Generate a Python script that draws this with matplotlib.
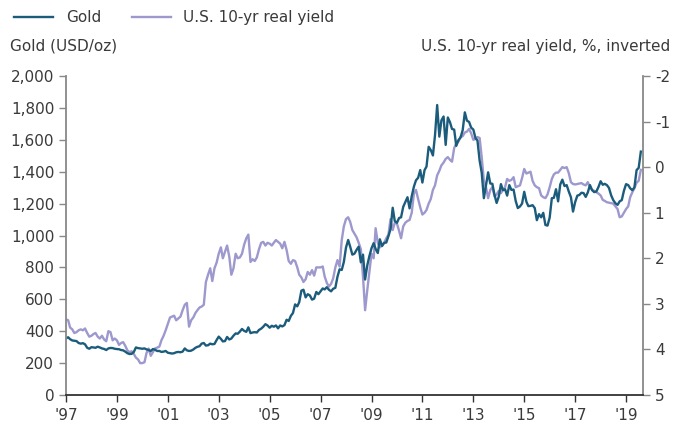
import numpy as np
import pandas as pd
import matplotlib
matplotlib.use("Agg")
import matplotlib.pyplot as plt

plt.rcParams['font.family'] = ['DejaVu Sans']
plt.rcParams['axes.unicode_minus'] = False

# monthly, Jan 1997 - Aug 2019
gold = [
    355, 362, 350, 342, 340, 338, 326, 322, 325, 318, 296, 290,      # 1997
    300, 298, 296, 303, 298, 292, 289, 282, 292, 295, 294, 290,      # 1998
    288, 287, 282, 280, 272, 262, 257, 258, 270, 298, 294, 292,      # 1999
    290, 292, 286, 282, 276, 288, 284, 276, 276, 270, 272, 276,      # 2000
    265, 262, 260, 262, 268, 270, 268, 272, 292, 280, 276, 278,      # 2001
    285, 296, 302, 306, 322, 326, 310, 312, 322, 318, 320, 344,      # 2002
    366, 352, 336, 338, 364, 348, 354, 372, 386, 384, 398, 414,      # 2003
    402, 396, 424, 388, 392, 394, 392, 408, 416, 428, 444, 436,      # 2004
    422, 434, 428, 436, 418, 436, 430, 438, 472, 464, 496, 514,      # 2005
    568, 556, 582, 654, 660, 612, 632, 624, 598, 604, 646, 632,      # 2006
    650, 668, 662, 676, 660, 650, 666, 672, 742, 788, 784, 834,      # 2007
    924, 972, 930, 880, 886, 910, 930, 832, 880, 724, 812, 870,      # 2008
    920, 952, 916, 890, 976, 934, 954, 956, 996, 1040, 1174, 1090,   # 2009
    1080, 1110, 1114, 1180, 1210, 1240, 1170, 1246, 1306, 1346, 1362, 1410,  # 2010
    1332, 1410, 1432, 1556, 1536, 1502, 1628, 1818, 1620, 1722, 1746, 1568,  # 2011
    1740, 1710, 1668, 1664, 1562, 1598, 1614, 1660, 1772, 1720, 1712, 1676,  # 2012
    1664, 1610, 1596, 1470, 1394, 1234, 1312, 1396, 1326, 1324, 1254, 1204,  # 2013
    1244, 1322, 1284, 1290, 1250, 1316, 1286, 1288, 1216, 1172, 1182, 1200,  # 2014
    1274, 1212, 1184, 1186, 1190, 1172, 1096, 1134, 1114, 1142, 1066, 1062,  # 2015
    1112, 1234, 1236, 1290, 1214, 1320, 1350, 1310, 1316, 1276, 1240, 1150,  # 2016
    1210, 1250, 1254, 1268, 1266, 1242, 1270, 1316, 1284, 1272, 1276, 1304,  # 2017
    1340, 1318, 1324, 1316, 1298, 1252, 1222, 1202, 1192, 1214, 1222, 1280,  # 2018
    1322, 1316, 1296, 1284, 1302, 1410, 1424, 1526,                          # 2019
]

real_yield = [
    3.34, 3.36, 3.52, 3.56, 3.64, 3.62, 3.58, 3.56, 3.58, 3.54, 3.64, 3.72,  # 1997
    3.70, 3.66, 3.64, 3.72, 3.76, 3.70, 3.78, 3.82, 3.60, 3.62, 3.80, 3.76,  # 1998
    3.80, 3.90, 3.86, 3.84, 3.92, 4.02, 4.06, 4.04, 4.10, 4.18, 4.22, 4.30,  # 1999
    4.30, 4.28, 4.08, 3.98, 4.14, 4.06, 3.98, 3.96, 3.94, 3.80, 3.70, 3.58,  # 2000
    3.44, 3.30, 3.28, 3.26, 3.36, 3.32, 3.28, 3.14, 3.02, 2.98, 3.50, 3.36,  # 2001
    3.30, 3.20, 3.14, 3.08, 3.06, 3.02, 2.52, 2.36, 2.22, 2.50, 2.22, 2.10,  # 2002
    1.90, 1.76, 2.00, 1.86, 1.72, 1.96, 2.36, 2.22, 1.90, 2.00, 1.98, 1.90,  # 2003
    1.70, 1.56, 1.48, 2.08, 2.02, 2.06, 1.98, 1.80, 1.66, 1.64, 1.72, 1.66,  # 2004
    1.68, 1.72, 1.66, 1.60, 1.64, 1.68, 1.78, 1.64, 1.82, 2.06, 2.12, 2.04,  # 2005
    2.06, 2.20, 2.36, 2.42, 2.52, 2.46, 2.30, 2.36, 2.26, 2.38, 2.20, 2.20,  # 2006
    2.20, 2.18, 2.40, 2.54, 2.62, 2.56, 2.44, 2.20, 2.04, 2.18, 1.60, 1.30,  # 2007
    1.14, 1.10, 1.20, 1.38, 1.46, 1.54, 1.66, 1.80, 2.40, 3.14, 2.70, 2.30,  # 2008
    1.90, 2.00, 1.34, 1.66, 1.76, 1.72, 1.66, 1.56, 1.48, 1.14, 1.38, 1.22,  # 2009
    1.24, 1.40, 1.56, 1.30, 1.22, 1.18, 1.16, 1.00, 0.58, 0.50, 0.70, 0.88,  # 2010
    1.04, 1.00, 0.94, 0.80, 0.70, 0.50, 0.40, 0.18, 0.08, -0.04, -0.10, -0.18,  # 2011
    -0.22, -0.16, -0.12, -0.42, -0.52, -0.56, -0.66, -0.68, -0.76, -0.78, -0.84, -0.74,  # 2012
    -0.60, -0.62, -0.66, -0.64, -0.22, 0.30, 0.44, 0.68, 0.50, 0.44, 0.64, 0.60,  # 2013
    0.52, 0.57, 0.50, 0.44, 0.26, 0.30, 0.28, 0.22, 0.44, 0.42, 0.40, 0.24,  # 2014
    0.04, 0.14, 0.12, 0.10, 0.30, 0.40, 0.44, 0.46, 0.62, 0.66, 0.68, 0.60,  # 2015
    0.44, 0.26, 0.16, 0.12, 0.12, 0.06, 0.00, 0.02, 0.00, 0.13, 0.33, 0.37,  # 2016
    0.38, 0.37, 0.36, 0.35, 0.38, 0.40, 0.33, 0.44, 0.50, 0.52, 0.55, 0.58,  # 2017
    0.62, 0.72, 0.74, 0.77, 0.78, 0.79, 0.80, 0.86, 0.92, 1.10, 1.08, 1.00,  # 2018
    0.92, 0.86, 0.66, 0.55, 0.46, 0.34, 0.30, 0.06,                          # 2019
]

dates = pd.date_range('1997-01-01', periods=len(gold), freq='MS')
tick_years = list(range(1997, 2020, 2))
tick_labels = ["'%02d" % (y % 100) for y in tick_years]

gold_col = '#1b5c7c'
yield_col = '#9d98cd'
txt = '#3a3a3a'

fig = plt.figure(figsize=(6.84, 4.34), dpi=100)
ax = fig.add_axes([66/684, 1-395/434, (643-66)/684, (395-76)/434])
ax2 = ax.twinx()

l2, = ax2.plot(dates, real_yield, color=yield_col, lw=1.7, label='U.S. 10-yr real yield')
l1, = ax.plot(dates, gold, color=gold_col, lw=1.7, label='Gold')
ax.set_zorder(ax2.get_zorder() + 1)
ax.patch.set_visible(False)

ax.set_ylim(0, 2000)
ax.set_yticks(range(0, 2001, 200))
ax.set_yticklabels(['{:,}'.format(v) for v in range(0, 2001, 200)])
ax2.set_ylim(5, -2)
ax2.set_yticks(range(-2, 6))

ax.set_xlim(pd.Timestamp('1997-01-01'), pd.Timestamp('2019-09-01'))
ax.set_xticks([pd.Timestamp('%d-01-01' % y) for y in tick_years])
ax.set_xticklabels(tick_labels)

for a in (ax, ax2):
    a.spines['top'].set_visible(False)
    a.tick_params(labelsize=11, colors=txt, length=5, width=1)
ax.spines['right'].set_visible(False)
ax.spines['left'].set_color('#888888')
ax.spines['left'].set_linewidth(1.3)
ax.spines['bottom'].set_color('#333333')
ax.spines['bottom'].set_linewidth(1.3)
ax2.spines['left'].set_visible(False)
ax2.spines['bottom'].set_visible(False)
ax2.spines['right'].set_color('#888888')
ax2.spines['right'].set_linewidth(1.3)
ax.tick_params(axis='y', color='#888888')
ax.tick_params(axis='x', color='#333333', pad=4)
ax2.tick_params(axis='y', color='#888888')

fig.legend(handles=[l1, l2], loc='upper left', bbox_to_anchor=(0.0, 1.008), ncol=2,
           frameon=False, fontsize=11, handlelength=2.6, columnspacing=2.0,
           labelcolor=txt)
fig.text(10/684, 1-46/434, 'Gold (USD/oz)', fontsize=11, color=txt, va='center', ha='left')
fig.text(670/684, 1-46/434, 'U.S. 10-yr real yield, %, inverted', fontsize=11, color=txt,
         va='center', ha='right')

fig.savefig('out.png', dpi=100)
